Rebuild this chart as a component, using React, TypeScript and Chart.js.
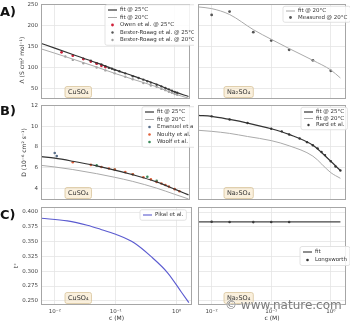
import React, { useEffect, useRef } from "react";
import { Chart, registerables } from "chart.js";
Chart.register(...registerables);

const FONT = "'DejaVu Sans', 'Liberation Sans', sans-serif";
const GRID = "#e4e4e4";

// shared x axis (log)
const X_MIN = 0.0059;
const X_MAX = 1.8;
const X_TICKS = [0.01, 0.1, 1];
const X_TICK_LABELS = ["10⁻²", "10⁻¹", "10⁰"];

// Row A: molar conductivity
const LAMBDA_TICKS = [50, 100, 150, 200, 250];
const LAMBDA_RANGE = [25, 251];
const cuFitC = [0.006, 0.01, 0.02, 0.05, 0.1, 0.2, 0.5, 1.0, 1.7];
const cuLambdaFit25 = [157, 146, 131, 111, 95, 80, 60, 42, 31];
const cuLambdaFit20 = [144, 134, 120, 101, 86, 72, 54, 37, 27];
const owenC = [0.013, 0.02, 0.03, 0.04, 0.05, 0.06, 0.07];
const owenLambda = [136, 128, 120, 114, 109, 104, 101];
const bester25C = [0.03, 0.04, 0.05, 0.06, 0.07, 0.08, 0.09, 0.1, 0.12, 0.15, 0.2, 0.25, 0.3, 0.35, 0.4, 0.5, 0.6, 0.7, 0.8, 0.9, 1.0, 1.1];
const bester25Lambda = [121, 116, 110, 107, 103, 99, 97, 94, 91, 86, 79, 75, 71, 67, 64, 59, 55, 51, 48, 45, 42, 40];
const bester20C = [0.015, 0.02, 0.03, 0.05, 0.07, 0.1, 0.15, 0.2, 0.3, 0.4, 0.5, 0.6, 0.7, 0.8, 0.9, 1.0, 1.1];
const bester20Lambda = [126, 118, 110, 100, 93, 86, 78, 72, 63, 57, 54, 49, 46, 42, 40, 37, 35];
const naFitC = [0.006, 0.01, 0.02, 0.05, 0.1, 0.2, 0.5, 1.0, 1.45];
const naLambdaFit20 = [244, 240, 226, 190, 167, 145, 117, 94, 75];
const naMeasC = [0.01, 0.02, 0.05, 0.1, 0.2, 0.5, 1.0];
const naMeasLambda = [225, 233, 184, 164, 142, 117, 92];

// Row B: diffusion coefficient
const D_TICKS = [4, 6, 8, 10, 12];
const D_RANGE = [2.85, 12.05];
const cuDFit25 = [7.05, 6.9, 6.6, 6.15, 5.75, 5.3, 4.6, 3.9, 3.35];
const cuDFit20 = [6.2, 6.05, 5.8, 5.4, 5.05, 4.65, 4.0, 3.4, 2.95];
const emanuelC = [0.01, 0.0108];
const emanuelD = [7.4, 7.1];
const noultyC = [0.02, 0.04, 0.06, 0.08, 0.1, 0.15, 0.2, 0.3, 0.4, 0.5, 0.6, 0.7, 0.8, 1.0, 1.2];
const noultyD = [6.5, 6.25, 6.05, 5.9, 5.8, 5.55, 5.35, 5.05, 4.85, 4.6, 4.45, 4.3, 4.15, 3.9, 3.7];
const woolfC = [0.05, 0.1, 0.2, 0.35, 0.5];
const woolfD = [6.2, 5.8, 5.35, 5.1, 4.7];
const naDFitC = [0.006, 0.01, 0.02, 0.04, 0.1, 0.2, 0.5, 1.0, 1.45];
const naDFit25 = [11.05, 10.95, 10.65, 10.3, 9.75, 9.2, 8.15, 6.6, 5.7];
const naDFit20 = [9.6, 9.5, 9.3, 9.0, 8.6, 8.1, 7.1, 5.5, 4.95];
const rardC = [0.01, 0.02, 0.04, 0.1, 0.15, 0.2, 0.3, 0.4, 0.5, 0.6, 0.7, 0.8, 1.0, 1.2, 1.45];
const rardD = [10.95, 10.65, 10.3, 9.75, 9.5, 9.2, 8.8, 8.45, 8.15, 7.85, 7.5, 7.2, 6.6, 6.1, 5.7];

// Row C: transference number
const T_TICKS = [0.25, 0.275, 0.3, 0.325, 0.35, 0.375, 0.4];
const T_RANGE = [0.243, 0.4085];
const pikalC = [0.0058, 0.016, 0.034, 0.056, 0.1, 0.2, 0.38, 0.72, 1.2, 1.6];
const pikalT = [0.3897, 0.385, 0.3777, 0.371, 0.3623, 0.348, 0.325, 0.297, 0.265, 0.247];
const naTFitC = [0.006, 1.45];
const naTFit = [0.3834, 0.3834];
const longsC = [0.01, 0.02, 0.05, 0.1, 0.2];
const longsT = [0.3836, 0.3832, 0.3830, 0.3831, 0.3832];

const pts = (xs: number[], ys: number[]) => xs.map((x, i) => ({ x, y: ys[i] }));
const lineDs = (label: string, xs: number[], ys: number[], color: string, width = 1.1) => ({
  label, data: pts(xs, ys), borderColor: color, backgroundColor: color, borderWidth: width,
  pointRadius: 0, showLine: true, cubicInterpolationMode: "monotone", kind: "line",
});
const dotDs = (label: string, xs: number[], ys: number[], color: string, r = 1.3) => ({
  label, data: pts(xs, ys), borderColor: color, backgroundColor: color, borderWidth: 0,
  pointRadius: r, showLine: false, kind: "point",
});

const framePlugin = {
  id: "frame",
  afterDatasetsDraw(chart: any) {
    const { ctx, chartArea: a } = chart;
    ctx.save();
    ctx.strokeStyle = "#a6a6a6";
    ctx.lineWidth = 1;
    ctx.strokeRect(Math.round(a.left) + 0.5, Math.round(a.top) + 0.5, Math.round(a.right - a.left) - 1, Math.round(a.bottom - a.top) - 1);
    ctx.restore();
  },
};

function rr(ctx: CanvasRenderingContext2D, x: number, y: number, w: number, h: number, r: number) {
  ctx.beginPath();
  ctx.moveTo(x + r, y);
  ctx.lineTo(x + w - r, y);
  ctx.quadraticCurveTo(x + w, y, x + w, y + r);
  ctx.lineTo(x + w, y + h - r);
  ctx.quadraticCurveTo(x + w, y + h, x + w - r, y + h);
  ctx.lineTo(x + r, y + h);
  ctx.quadraticCurveTo(x, y + h, x, y + h - r);
  ctx.lineTo(x, y + r);
  ctx.quadraticCurveTo(x, y, x + r, y);
  ctx.closePath();
}

const legendPlugin = {
  id: "insetLegend",
  afterDraw(chart: any, _a: any, opts: any) {
    if (!opts || !opts.show) return;
    const { ctx, chartArea: a } = chart;
    const items = chart.data.datasets;
    const fs = opts.fontSize ?? 5.5;
    const rowH = opts.rowH ?? 7.5;
    const handle = 9;
    const gap = 3;
    ctx.save();
    ctx.font = `${fs}px ${FONT}`;
    const tw = Math.max(...items.map((d: any) => ctx.measureText(d.label).width));
    const x0 = a.left + opts.x;
    const y0 = a.top + opts.y;
    const bx = x0 - 3, by = y0 - rowH / 2 - 1.5;
    const bw = handle + gap + tw + 6, bh = rowH * items.length + 3;
    rr(ctx, bx, by, bw, bh, 2);
    ctx.fillStyle = "rgba(255,255,255,0.85)";
    ctx.fill();
    ctx.strokeStyle = "#dcdcdc";
    ctx.lineWidth = 0.8;
    ctx.stroke();
    items.forEach((d: any, i: number) => {
      const cy = y0 + i * rowH;
      if (d.kind === "line") {
        ctx.strokeStyle = d.borderColor;
        ctx.lineWidth = d.borderWidth;
        ctx.beginPath();
        ctx.moveTo(x0, cy);
        ctx.lineTo(x0 + handle, cy);
        ctx.stroke();
      } else {
        ctx.fillStyle = d.backgroundColor;
        ctx.beginPath();
        ctx.arc(x0 + handle / 2, cy, d.pointRadius, 0, Math.PI * 2);
        ctx.fill();
      }
      ctx.fillStyle = "#333";
      ctx.textBaseline = "middle";
      ctx.textAlign = "left";
      ctx.fillText(d.label, x0 + handle + gap, cy);
    });
    ctx.restore();
  },
};

const tagPlugin = {
  id: "tag",
  afterDraw(chart: any, _a: any, opts: any) {
    if (!opts || !opts.text) return;
    const { ctx, chartArea: a } = chart;
    ctx.save();
    ctx.font = `6.5px ${FONT}`;
    const tw = ctx.measureText(opts.text).width;
    const h = 11;
    const x = a.left + opts.dx;
    const y = a.bottom - 1.5 - h;
    rr(ctx, x, y, tw + 6, h, 2);
    ctx.fillStyle = "rgba(245,222,179,0.45)";
    ctx.fill();
    ctx.strokeStyle = "#d8c49c";
    ctx.lineWidth = 0.8;
    ctx.stroke();
    ctx.fillStyle = "#333";
    ctx.textBaseline = "middle";
    ctx.fillText(opts.text, x + 3, y + h / 2);
    ctx.restore();
  },
};

type Opt = {
  datasets: any[];
  yRange: number[];
  yTicks: number[];
  yFmt: (v: number) => string;
  col: 0 | 1;
  row: 0 | 1 | 2;
  yTitle?: string;
  yTitlePad?: number;
  legend: any;
  tag: string;
};

function buildConfig(o: Opt) {
  const isLeft = o.col === 0;
  const isBottom = o.row === 2;
  const padTop = [2, 5, 7][o.row];
  return {
    type: "line",
    data: { datasets: o.datasets },
    plugins: [framePlugin, legendPlugin, tagPlugin],
    options: {
      responsive: false,
      animation: false,
      events: [],
      layout: { padding: { left: 0, right: isLeft ? 2 : 3, top: padTop, bottom: 0 } },
      plugins: {
        legend: { display: false },
        tooltip: { enabled: false },
        insetLegend: o.legend,
        tag: { text: o.tag, dx: isLeft ? 24 : 26 },
      },
      scales: {
        x: {
          type: "logarithmic",
          min: X_MIN,
          max: X_MAX,
          afterBuildTicks: (s: any) => { s.ticks = X_TICKS.map((v) => ({ value: v })); },
          afterFit: (s: any) => { s.height = isBottom ? 17 : 3; s.paddingLeft = 0; s.paddingRight = 0; },
          ticks: {
            display: isBottom, autoSkip: false, maxRotation: 0, padding: 3,
            font: { family: FONT, size: 5.5 }, color: "#444",
            callback: (v: number) => { const i = X_TICKS.indexOf(v); return i >= 0 ? X_TICK_LABELS[i] : ""; },
          },
          grid: { color: GRID, drawTicks: false, lineWidth: 0.8 },
          border: { display: false },
          title: { display: isBottom, text: "c (M)", font: { family: FONT, size: 6 }, color: "#333", padding: { top: 0, bottom: 0 } },
        },
        y: {
          type: "linear",
          min: o.yRange[0],
          max: o.yRange[1],
          afterBuildTicks: (s: any) => { s.ticks = o.yTicks.map((v) => ({ value: v })); },
          afterFit: (s: any) => { s.width = isLeft ? 41 : 3; s.paddingTop = 0; s.paddingBottom = 0; },
          ticks: {
            display: isLeft, padding: 3, font: { family: FONT, size: 5.5 }, color: "#444",
            callback: (v: number) => o.yFmt(v),
          },
          grid: { color: GRID, drawTicks: false, lineWidth: 0.8 },
          border: { display: false },
          title: {
            display: isLeft && !!o.yTitle, text: o.yTitle || "", font: { family: FONT, size: 6 }, color: "#333",
            padding: { top: o.yTitlePad ?? 19, bottom: 0 },
          },
        },
      },
    },
  };
}

function Panel({ left, top, width, height, config }: { left: number; top: number; width: number; height: number; config: any }) {
  const ref = useRef<HTMLCanvasElement>(null);
  useEffect(() => {
    const chart = new Chart(ref.current as HTMLCanvasElement, config);
    return () => chart.destroy();
  }, []);
  return (
    <canvas ref={ref} width={width} height={height}
      style={{ position: "absolute", left, top, width, height }} />
  );
}

const COLS = [{ left: 0, width: 194 }, { left: 194, width: 156 }];
const ROWS = [{ top: 0, height: 103 }, { top: 100, height: 104 }, { top: 200, height: 122 }];

const fmtInt = (v: number) => String(v);
const fmtT = (v: number) => v.toFixed(3);
const NB = "\u00A0";

const PANELS = [
  {
    col: 0, row: 0, cfg: buildConfig({
      col: 0, row: 0, yRange: LAMBDA_RANGE, yTicks: LAMBDA_TICKS, yFmt: fmtInt,
      yTitle: "Λ (S cm² mol⁻¹)" + NB.repeat(9), yTitlePad: 19, tag: "CuSO₄",
      legend: { show: true, x: 67, y: 6, rowH: 7.5 },
      datasets: [
        lineDs("fit @ 25°C", cuFitC, cuLambdaFit25, "#333333", 1.2),
        lineDs("fit @ 20°C", cuFitC, cuLambdaFit20, "#aaaaaa", 1),
        dotDs("Owen et al. @ 25°C", owenC, owenLambda, "#d0203a", 1.4),
        dotDs("Bester-Roaag et al. @ 25°C", bester25C, bester25Lambda, "#555555", 1.2),
        dotDs("Bester-Roaag et al. @ 20°C", bester20C, bester20Lambda, "#a0a0a0", 1.2),
      ],
    }),
  },
  {
    col: 1, row: 0, cfg: buildConfig({
      col: 1, row: 0, yRange: LAMBDA_RANGE, yTicks: LAMBDA_TICKS, yFmt: fmtInt, tag: "Na₂SO₄",
      legend: { show: true, x: 88, y: 7, rowH: 6.5 },
      datasets: [
        lineDs("fit @ 20°C", naFitC, naLambdaFit20, "#aaaaaa", 1),
        dotDs("Measured @ 20°C", naMeasC, naMeasLambda, "#555555", 1.4),
      ],
    }),
  },
  {
    col: 0, row: 1, cfg: buildConfig({
      col: 0, row: 1, yRange: D_RANGE, yTicks: D_TICKS, yFmt: fmtInt,
      yTitle: "D (10⁻⁶ cm² s⁻¹)", yTitlePad: 21, tag: "CuSO₄",
      legend: { show: true, x: 104, y: 7, rowH: 7.5 },
      datasets: [
        lineDs("fit @ 25°C", cuFitC, cuDFit25, "#333333", 1.2),
        lineDs("fit @ 20°C", cuFitC, cuDFit20, "#aaaaaa", 1),
        dotDs("Emanuel et al.", emanuelC, emanuelD, "#5a6f8a", 1.3),
        dotDs("Noulty et al.", noultyC, noultyD, "#e0603a", 1.3),
        dotDs("Woolf et al.", woolfC, woolfD, "#3a8a5a", 1.3),
      ],
    }),
  },
  {
    col: 1, row: 1, cfg: buildConfig({
      col: 1, row: 1, yRange: D_RANGE, yTicks: D_TICKS, yFmt: fmtInt, tag: "Na₂SO₄",
      legend: { show: true, x: 106, y: 7, rowH: 6.5 },
      datasets: [
        lineDs("fit @ 25°C", naDFitC, naDFit25, "#333333", 1.2),
        lineDs("fit @ 20°C", naDFitC, naDFit20, "#aaaaaa", 1),
        dotDs("Rard et al.", rardC, rardD, "#333333", 1.2),
      ],
    }),
  },
  {
    col: 0, row: 2, cfg: buildConfig({
      col: 0, row: 2, yRange: T_RANGE, yTicks: T_TICKS, yFmt: fmtT,
      yTitle: "t⁺" + NB.repeat(10), yTitlePad: 13, tag: "CuSO₄",
      legend: { show: true, x: 102, y: 8, rowH: 7.5 },
      datasets: [lineDs("Pikal et al.", pikalC, pikalT, "#5b5bd0", 1.1)],
    }),
  },
  {
    col: 1, row: 2, cfg: buildConfig({
      col: 1, row: 2, yRange: T_RANGE, yTicks: T_TICKS, yFmt: fmtT, tag: "Na₂SO₄",
      legend: { show: true, x: 105, y: 45, rowH: 8 },
      datasets: [
        lineDs("fit", naTFitC, naTFit, "#444444", 1.2),
        dotDs("Longsworth", longsC, longsT, "#333333", 1.3),
      ],
    }),
  },
];

export default function App() {
  const label = (t: string, top: number) => (
    <div style={{ position: "absolute", left: 0, top, fontFamily: FONT, fontWeight: "bold", fontSize: 13, lineHeight: "13px", color: "#111" }}>{t}</div>
  );
  return (
    <div style={{ position: "absolute", left: 0, top: 0, width: 350, height: 322, background: "#fff", overflow: "hidden" }}>
      {PANELS.map((p, i) => (
        <Panel key={i} left={COLS[p.col].left} top={ROWS[p.row].top} width={COLS[p.col].width} height={ROWS[p.row].height} config={p.cfg} />
      ))}
      {label("A)", 5)}
      {label("B)", 104)}
      {label("C)", 208)}
      <div style={{ position: "absolute", left: 225, top: 298, fontFamily: FONT, fontSize: 12, color: "#7a7a7a", textShadow: "0 0 2px #fff, 0 0 2px #fff", whiteSpace: "nowrap" }}>© www.nature.com</div>
    </div>
  );
}
